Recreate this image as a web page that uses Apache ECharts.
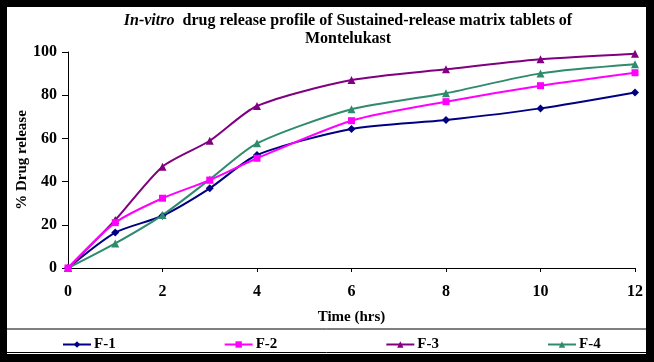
<!DOCTYPE html>
<html><head><meta charset="utf-8">
<script src="https://cdn.jsdelivr.net/npm/echarts@6/dist/echarts.min.js"></script>
<style>html,body{margin:0;padding:0;background:#000;}#c{position:absolute;left:0;top:0;width:654px;height:362px;}</style>
</head><body><div id="c"></div>
<script>
var times = [0, 1, 2, 3, 4, 6, 8, 10, 12];
var xTicks = [0, 2, 4, 6, 8, 10, 12];
var yTicks = [0, 20, 40, 60, 80, 100];
var seriesNames = ['F-1', 'F-2', 'F-3', 'F-4'];
var f1 = [0, 16.4, 24.2, 36.9, 52.3, 64.4, 68.5, 73.9, 81.3];
var f2 = [0, 21.0, 32.3, 40.7, 50.8, 68.2, 77.0, 84.4, 90.4];
var f3 = [0, 22.2, 46.9, 58.9, 75.0, 87.0, 92.0, 96.6, 99.2];
var f4 = [0, 11.4, 24.5, 41.0, 57.7, 73.5, 80.9, 90.1, 94.3];

var colors = ['#000080', '#FF00FF', '#800080', '#2E8B6E'];
var symbols = ['diamond', 'rect', 'triangle', 'triangle'];
var values = [f1, f2, f3, f4];
var font = 'Liberation Serif';

var chart = echarts.init(document.getElementById('c'));
var series = values.map(function (v, i) {
  return {
    name: seriesNames[i], type: 'line', smooth: 0.25,
    data: times.map(function (t, k) { return [t, v[k]]; }),
    symbol: symbols[i], symbolSize: i === 1 ? 7 : 8,
    lineStyle: { color: colors[i], width: 2 },
    itemStyle: { color: colors[i] },
    z: i === 1 ? 3 : 2
  };
});
chart.setOption({
  backgroundColor: 'transparent',
  animation: false,
  graphic: [
    { type: 'rect', shape: { x: 7, y: 7, width: 639, height: 347 }, style: { fill: '#fff' }, z: -10 },
    { type: 'line', shape: { x1: 7, y1: 329, x2: 646, y2: 329 }, style: { stroke: '#000', lineWidth: 1 } },
    { type: 'line', shape: { x1: 7, y1: 352.5, x2: 646, y2: 352.5 }, style: { stroke: '#000', lineWidth: 1 } },
    { type: 'text', x: 348, y: 21, style: {
        text: '{i|In-vitro}{b|  drug release profile of Sustained-release matrix tablets of}',
        textAlign: 'center', textVerticalAlign: 'middle',
        rich: { i: { fontFamily: font, fontSize: 16, fontWeight: 'bold', fontStyle: 'italic', fill: '#000' },
                b: { fontFamily: font, fontSize: 16, fontWeight: 'bold', fill: '#000' } } } },
    { type: 'text', x: 348, y: 39, style: { text: 'Montelukast', textAlign: 'center', textVerticalAlign: 'middle',
        fontFamily: font, fontSize: 16, fontWeight: 'bold', fill: '#000' } }
  ],
  legend: {
    data: seriesNames, left: 57, top: 332, itemGap: 108, itemWidth: 28, itemHeight: 8,
    textStyle: { fontFamily: font, fontSize: 15, fontWeight: 'bold', color: '#000', padding: [0, 0, 0, -2] }
  },
  grid: { left: 68, right: 19, top: 52, bottom: 94 },
  xAxis: {
    type: 'value', min: 0, max: 12, interval: 2,
    name: 'Time (hrs)', nameLocation: 'middle', nameGap: 42,
    nameTextStyle: { fontFamily: font, fontSize: 15, fontWeight: 'bold', color: '#000' },
    axisLine: { lineStyle: { color: '#000', width: 1 } },
    axisTick: { inside: false, length: 4, lineStyle: { color: '#000' } },
    axisLabel: { fontFamily: font, fontSize: 16, fontWeight: 'bold', color: '#000', margin: 16 },
    splitLine: { show: false }
  },
  yAxis: {
    type: 'value', min: 0, max: 100, interval: 20,
    name: '% Drug release', nameLocation: 'middle', nameGap: 38, nameMoveOverlap: false,
    nameTextStyle: { fontFamily: font, fontSize: 15, fontWeight: 'bold', color: '#000' },
    axisLine: { show: true, lineStyle: { color: '#000', width: 1 } },
    axisTick: { show: true, length: 6, lineStyle: { color: '#000' } },
    axisLabel: { fontFamily: font, fontSize: 16, fontWeight: 'bold', color: '#000', margin: 11 },
    splitLine: { show: false }
  },
  series: series
});
</script></body></html>
